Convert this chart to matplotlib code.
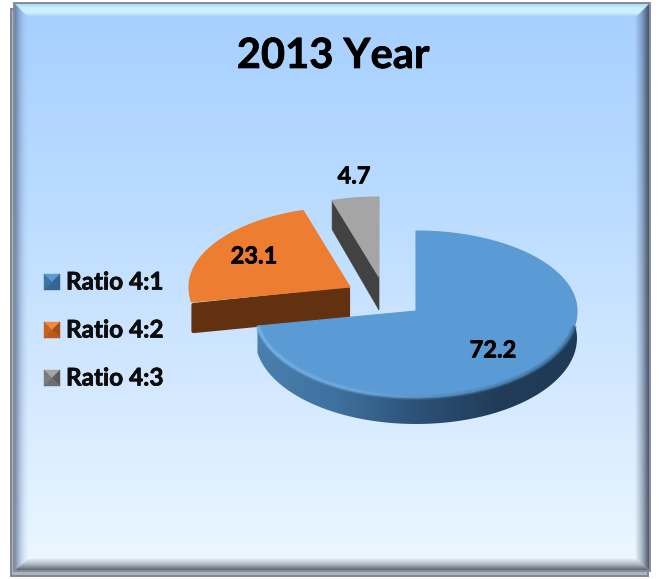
import numpy as np
import matplotlib
matplotlib.use("Agg")
import matplotlib.pyplot as plt
import matplotlib.patheffects as pe
from matplotlib.collections import LineCollection
from matplotlib.colors import LinearSegmentedColormap, to_rgba
from matplotlib.patches import Polygon, Rectangle

plt.rcParams['font.family'] = ['Lato', 'DejaVu Sans']

title = '2013 Year'
labels = ['Ratio 4:1', 'Ratio 4:2', 'Ratio 4:3']
values = [72.2, 23.1, 4.7]
value_text = ['72.2', '23.1', '4.7']

colors = ['#5b9bd5', '#ed7d31', '#a5a5a5']
side_colors = ['#2c5f8d', '#62310f', '#424242']
key_colors = [['#5b9bd5', '#34658f', '#3f74a6', '#35668f'],
              ['#f08a42', '#a34f17', '#c9641f', '#b85a1c'],
              ['#a5a5a5', '#5c5c5c', '#7c7c7c', '#6e6e6e']]
apexes = [(416, 311), (350, 287), (379, 277)]
label_pos = [(493, 350), (254, 256), (354, 176)]
legend_y = [282, 330, 378]

RX = 161
RY_UP = 80
RY_DOWN = 86
DEPTHS = [27, 30, 29]

heavy = [pe.withStroke(linewidth=0.5, foreground='black')]


def gradient(ax, stops, extent, horizontal=False, clip=None, zorder=1):
    cmap = LinearSegmentedColormap.from_list('g', [to_rgba(c) if isinstance(c, str) else c for c in stops])
    ramp = np.linspace(0, 1, 256)
    ramp = ramp[None, :] if horizontal else ramp[:, None]
    im = ax.imshow(ramp, cmap=cmap, extent=extent, aspect='auto',
                   interpolation='bilinear', zorder=zorder)
    if clip is not None:
        ax.add_patch(clip)
        im.set_clip_path(clip)
    return im


def region(pts):
    return Polygon(pts, closed=True, fc='none', ec='none')


def arc_points(apex, start, end, n=120):
    # angles run clockwise from twelve o'clock, in degrees
    t = np.radians(np.linspace(start, end, n))
    dx = RX * np.sin(t)
    dy = -np.cos(t)
    dy = np.where(dy < 0, dy * RY_UP, dy * RY_DOWN)
    return np.column_stack([apex[0] + dx, apex[1] + dy])


fig = plt.figure(figsize=(6.59, 5.79), dpi=100)
ax = fig.add_axes([0, 0, 1, 1])
ax.set_xlim(0, 659)
ax.set_ylim(579, 0)
ax.axis('off')

# panel frame: back plate, then the bevelled face
ax.add_patch(Rectangle((10.5, 8.5), 637, 567, fc='#aab4c2', ec='#7f8791', lw=1.4, zorder=0))
ax.add_patch(Rectangle((14, 3), 636, 568, fc='#8d96a3', ec='#868d97', lw=1.4, zorder=0.5))

L, T, R, B = 15, 4, 649, 570
BEV_X, BEV_T, BEV_B = 14, 14, 12
face = [(L + BEV_X, T + BEV_T), (R - BEV_X, T + BEV_T), (R - BEV_X, B - BEV_B), (L + BEV_X, B - BEV_B)]

gradient(ax, ['#a6cfff', '#b9dbff', '#d3e8ff', '#ecf8ff'], (L, R, B, T), zorder=1)

# the four bevel strips are translucent so the panel colour runs through them
gradient(ax, [to_rgba('#a9d8fb', 1.0), to_rgba('#d2f3ff', 1.0), to_rgba('#d2f3ff', 0.9), to_rgba('#aad3fb', 0.0)],
         (L, R, T + BEV_T, T), zorder=2, clip=region([(L, T), (R, T), face[1], face[0]]))
gradient(ax, [to_rgba('#33415c', 0.0), to_rgba('#33415c', 0.35), to_rgba('#2f3a4c', 0.85)],
         (R - BEV_X, R, B, T), horizontal=True, zorder=2, clip=region([(R, T), (R, B), face[2], face[1]]))
gradient(ax, [to_rgba('#5a6270', 0.0), to_rgba('#5a6270', 0.4), to_rgba('#555c68', 0.95)],
         (L, R, B, B - BEV_B), zorder=2, clip=region([(L, B), (R, B), face[2], face[3]]))
gradient(ax, [to_rgba('#56688f', 0.75), to_rgba('#7d92b8', 0.3), to_rgba('#a6cdf8', 0.0)],
         (L, L + BEV_X, B, T), horizontal=True, zorder=2, clip=region([(L, T), (L, B), face[3], face[0]]))

# slices run clockwise from twelve o'clock
starts = np.concatenate([[0], np.cumsum(values)[:-1]]) * 3.6
ends = np.cumsum(values) * 3.6

# rim of the large slice, shaded from left to right; it starts behind the top face
rim_top = arc_points(apexes[0], 72, ends[0])
rim_base = rim_top + [0, DEPTHS[0]]
rim = np.vstack([rim_top, rim_base[::-1]])
gradient(ax, ['#4a80b0', '#3f719f', '#2c5278', '#213c58', '#1f3a55'],
         (apexes[0][0] - RX, apexes[0][0] + RX, 450, 270), horizontal=True, zorder=3,
         clip=region(rim))

# cut faces of the two pulled-out slices, with softened corners
p = arc_points(apexes[1], starts[1], starts[1], 1)[0]
ax.add_patch(Polygon([np.array(apexes[1]) + [-2, 2], p + [2, 3], p + [2, DEPTHS[1] - 1],
                      np.array(apexes[1]) + [-2, DEPTHS[1] - 1]],
                     closed=True, fc=side_colors[1], ec=side_colors[1], lw=3, joinstyle='round', zorder=3))
p = arc_points(apexes[2], starts[2], starts[2], 1)[0]
ax.add_patch(Polygon([apexes[2], p, p + [0, DEPTHS[2]], np.array(apexes[2]) + [0, 33]],
                     closed=True, fc=side_colors[2], ec=side_colors[2], lw=0.5, zorder=3))

# top faces
for i in [1, 2, 0]:
    arc = arc_points(apexes[i], starts[i], ends[i])
    ax.add_patch(Polygon(np.vstack([[apexes[i]], arc]), closed=True, fc=colors[i], ec=colors[i],
                         lw=0.8, joinstyle='round', zorder=4 + (i == 0)))

# bevel along the rim: bright on the left, falling off into shadow on the right
bevel_top = arc_points(apexes[0], 100, ends[0])
edge_cmap = LinearSegmentedColormap.from_list('edge', ['#7db6ea', '#6fa9de', '#4f86b8', '#3d6c97'])
segs = np.stack([bevel_top[:-1], bevel_top[1:]], axis=1)
shade = (bevel_top[:-1, 0] - bevel_top[:, 0].min()) / (bevel_top[:, 0].max() - bevel_top[:, 0].min())
for width, alpha in [(4.0, 0.3), (2.0, 0.7)]:
    lc = LineCollection(segs, cmap=edge_cmap, linewidths=width, alpha=alpha, zorder=6)
    lc.set_array(shade)
    ax.add_collection(lc)

for pos, txt in zip(label_pos, value_text):
    ax.text(pos[0], pos[1], txt, fontsize=17, fontweight='bold', color='black',
            ha='center', va='center', zorder=8, path_effects=heavy)

ax.text(333, 56, title, fontsize=30, fontweight='bold', color='black',
        ha='center', va='center', zorder=8, path_effects=heavy)

# legend keys are small bevelled squares
for y, lab, cols in zip(legend_y, labels, key_colors):
    x0, x1, y0, y1 = 44, 60, y - 8, y + 8
    xm, ym = (x0 + x1) / 2, (y0 + y1) / 2
    tris = [[(x0, y0), (x1, y0), (xm, ym)],
            [(x1, y0), (x1, y1), (xm, ym)],
            [(x0, y0), (x0, y1), (xm, ym)],
            [(x0, y1), (x1, y1), (xm, ym)]]
    for pts, col in zip(tris, cols):
        ax.add_patch(Polygon(pts, closed=True, fc=col, ec=col, lw=0.3, zorder=7))
    ax.text(66, y, lab, fontsize=17.5, fontweight='bold', color='#0d0d0d',
            ha='left', va='center', zorder=8, path_effects=heavy)

fig.savefig('out.png', dpi=100)
